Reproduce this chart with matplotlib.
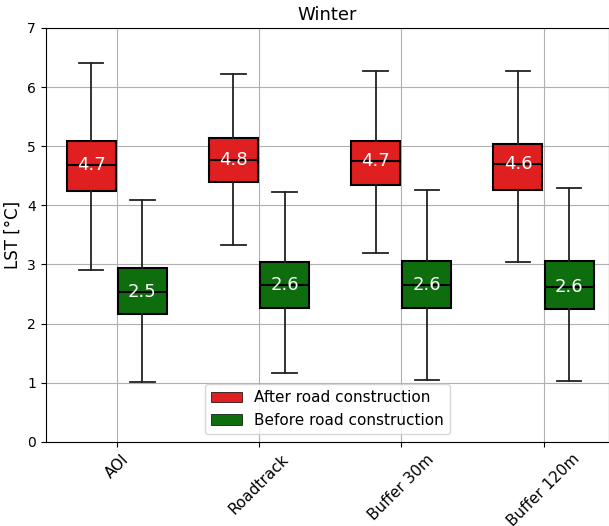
import matplotlib
matplotlib.use('AGG')
import matplotlib.pyplot as plt
from matplotlib.patches import Patch
import numpy as np

# values
categories = ['AOI', 'Roadtrack', 'Buffer 30m', 'Buffer 120m']

after_whislo = [2.91, 3.33, 3.20, 3.04]
after_q1 = [4.24, 4.40, 4.35, 4.26]
after_med = [4.68, 4.77, 4.75, 4.70]
after_q3 = [5.09, 5.14, 5.09, 5.04]
after_whishi = [6.41, 6.22, 6.27, 6.27]
after_labels = [4.7, 4.8, 4.7, 4.6]

before_whislo = [1.01, 1.17, 1.05, 1.03]
before_q1 = [2.16, 2.27, 2.27, 2.25]
before_med = [2.54, 2.65, 2.65, 2.62]
before_q3 = [2.94, 3.04, 3.06, 3.06]
before_whishi = [4.09, 4.23, 4.26, 4.29]
before_labels = [2.5, 2.6, 2.6, 2.6]

red = '#e02020'
green = '#0e6e0e'


def make_stats(lo, q1, med, q3, hi):
    return [dict(whislo=lo[i], q1=q1[i], med=med[i], q3=q3[i], whishi=hi[i], fliers=[])
            for i in range(len(lo))]


fig = plt.figure(figsize=(6.09, 5.26), dpi=100)
ax = fig.add_axes([0.075, 0.16, 0.925, 0.787])

x = np.arange(len(categories))
off = 0.18
w = 0.345

groups = [
    (make_stats(after_whislo, after_q1, after_med, after_q3, after_whishi), x - off, red, after_med, after_labels),
    (make_stats(before_whislo, before_q1, before_med, before_q3, before_whishi), x + off, green, before_med, before_labels),
]

for stats, pos, col, meds, labels in groups:
    ax.bxp(stats, positions=pos, widths=w, patch_artist=True, showfliers=False,
           boxprops=dict(facecolor=col, edgecolor='black', linewidth=1.5),
           medianprops=dict(color='black', linewidth=1.5),
           whiskerprops=dict(color='#222222', linewidth=1.3),
           capprops=dict(color='#222222', linewidth=1.3),
           manage_ticks=False, zorder=3)
    for p, m, lab in zip(pos, meds, labels):
        ax.text(p, m, '%.1f' % lab, color='white', fontsize=13,
                ha='center', va='center', zorder=4)

ax.set_xticks(x)
ax.set_xticklabels(categories, rotation=45, fontsize=11)
ax.set_xlim(-0.5, 3.46)
ax.set_ylim(0, 7)
ax.set_yticks(range(0, 8))
ax.grid(True, color='#b0b0b0', linewidth=0.8)
ax.set_axisbelow(True)
ax.set_ylabel('LST [°C]', fontsize=12)
ax.set_title('Winter', fontsize=13)

handles = [Patch(facecolor=red, edgecolor='black', linewidth=0.5, label='After road construction'),
           Patch(facecolor=green, edgecolor='black', linewidth=0.5, label='Before road construction')]
ax.legend(handles=handles, loc='lower center', fontsize=11)

plt.savefig('out.png', dpi=100)
plt.close('all')
